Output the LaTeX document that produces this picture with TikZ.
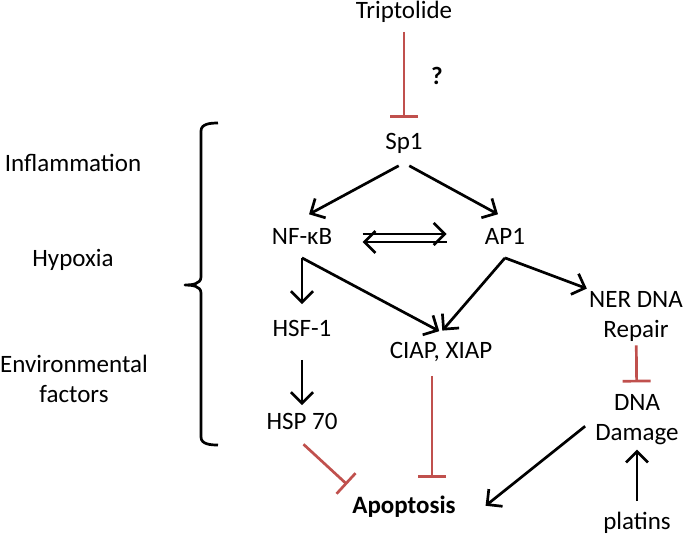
\documentclass[tikz,border=0pt]{standalone}
\usepackage{fontspec}
\setmainfont{Carlito}
\usetikzlibrary{arrows.meta}
\definecolor{inhred}{RGB}{192,80,77}
\begin{document}
\begin{tikzpicture}[x=0.5pt,y=-0.5pt,
  every node/.style={font=\fontsize{12.5}{15}\selectfont,inner xsep=1pt,inner ysep=4pt,text height=9pt,text depth=2.5pt},
  two/.style={align=center,text height=,text depth=,inner ysep=1pt},
  act/.style={line width=1.35pt,-{Straight Barb[length=5.5pt,width=11pt,line width=1.35pt]}},
  inh/.style={line width=1.35pt,inhred,-{Bar[width=14pt,line width=1.35pt]}}]
\useasboundingbox (0,0) rectangle (685,537);
% nodes
\node (trip) at (404,12) {Triptolide};
\node[font=\fontsize{12.5}{15}\selectfont\bfseries] (q) at (437,78) {?};
\node (sp1) at (404,143) {Sp1};
\node (nfkb) at (302,238) {NF-κB};
\node (ap1) at (505,238) {AP1};
\node (hsf) at (302,330) {HSF-1};
\node (ciap) at (441,352) {CIAP, XIAP};
\node[two] (ner) at (636,316) {NER DNA\\Repair};
\node (hsp) at (302,423) {HSP 70};
\node[two] (dna) at (637,420) {DNA\\Damage};
\node[font=\fontsize{12.5}{15}\selectfont\bfseries] (apo) at (404,507) {Apoptosis};
\node (plat) at (637,523) {platins};
% factors on the left
\node (infl) at (73,165) {Inflammation};
\node (hyp) at (73,260) {Hypoxia};
\node[two] (env) at (74,379) {Environmental\\factors};
\draw[line width=1.35pt,line join=round] (218,123) to[out=180,in=90] (201,131) -- (201,277) to[out=-90,in=0] (185,285) to[out=0,in=90] (201,293) -- (201,437) to[out=-90,in=180] (218,445);
% connectors
\draw[inh,shorten <=0pt,shorten >=2.5pt] (trip) -- (sp1);
\draw[act,shorten <=3pt,shorten >=4pt] (sp1.south) -- (nfkb.north);
\draw[act,shorten <=3pt,shorten >=4pt] (sp1.south) -- (ap1.north);
\draw[act,shorten <=14pt,shorten >=18pt] ([yshift=2pt]nfkb.east) -- ([yshift=2pt]ap1.west);
\draw[act,shorten <=18pt,shorten >=14pt] ([yshift=-2pt]ap1.west) -- ([yshift=-2pt]nfkb.east);
\draw[act,shorten >=3pt] (nfkb.south) -- (hsf.north);
\draw[act,shorten >=1pt] (nfkb.south) -- (ciap.north);
\draw[act,shorten >=1pt] (ap1.south) -- (ciap.north);
\draw[act] (ap1.south) -- (ner.north west);
\draw[act,shorten <=5pt,shorten >=-1pt] (hsf.south) -- (hsp.north);
\draw[inh,shorten <=1pt,shorten >=2pt] (hsp.south) -- (apo.north west);
\draw[inh,shorten <=2pt,shorten >=4.5pt] ([xshift=-4.5pt]ciap.south) -- ([xshift=-4.5pt]ciap.south |- apo.north);
\draw[inh,shorten <=1pt,shorten >=5pt] (ner) -- (dna);
\draw[act,shorten <=5pt,shorten >=1pt] (dna.west) -- ([xshift=13pt]apo.east);
\draw[act,shorten <=1pt,shorten >=1pt] (plat) -- (dna);
\end{tikzpicture}
\end{document}
